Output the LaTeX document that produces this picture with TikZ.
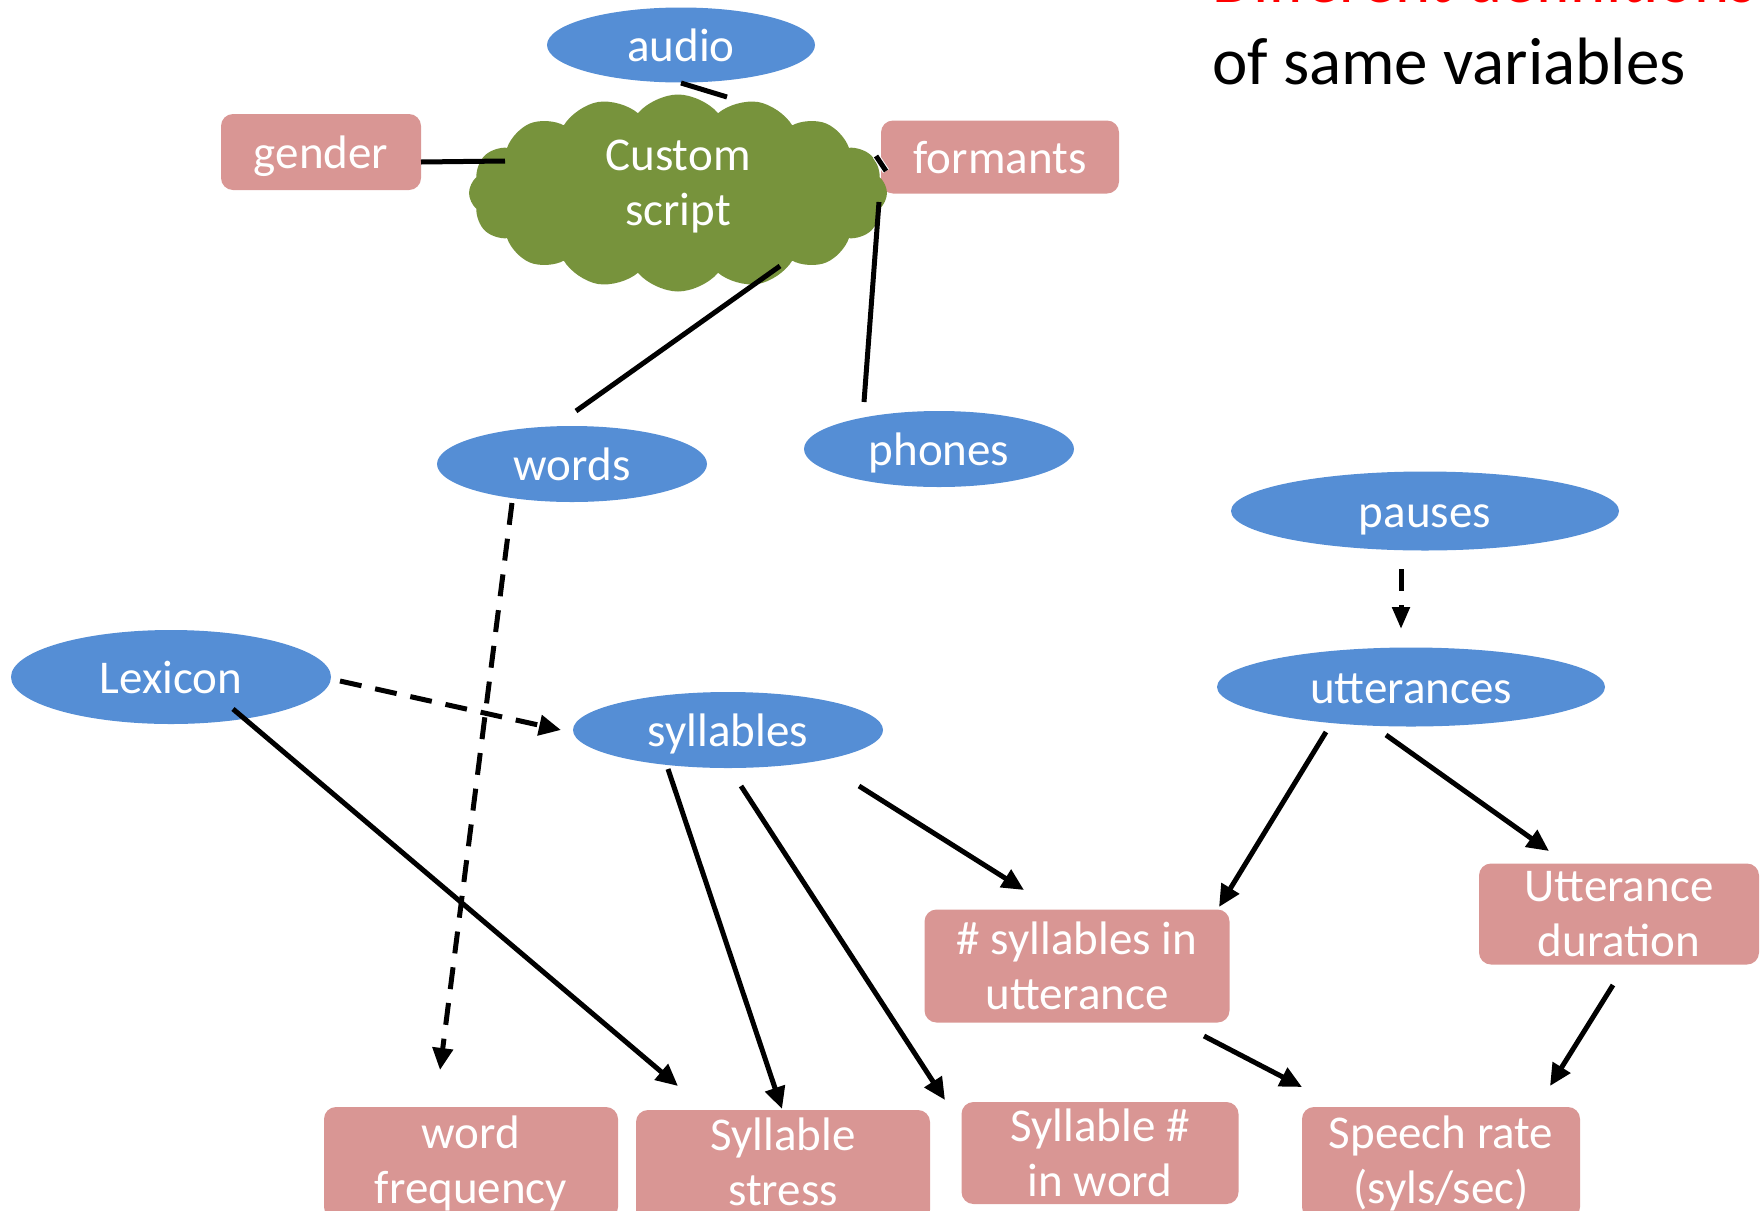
\documentclass[tikz,border=0pt]{standalone}
\usepackage{fontspec}
\setmainfont{Carlito}
\usetikzlibrary{shapes.geometric,shapes.symbols,arrows.meta,calc}
\definecolor{ovalblue}{HTML}{558ED5}
\definecolor{boxpink}{HTML}{D99694}
\definecolor{cloudgreen}{HTML}{77933C}
\begin{document}
\begin{tikzpicture}[x=1pt,y=-1pt,
  every node/.style={font=\fontsize{47}{55}\selectfont, text=white, inner sep=0pt},
  oneline/.style={text height=33pt, text depth=0pt},
  oval/.style={ellipse, fill=ovalblue, oneline},
  box/.style={rectangle, rounded corners=12pt, fill=boxpink, align=center},
  link/.style={line width=5pt, black},
  arr/.style={link, -{Triangle[length=22pt,width=20pt]}},
  dashline/.style={dash pattern=on 22pt off 14pt},
  heading/.style={anchor=base west, font=\fontsize{67}{76}\selectfont}]
\clip (0,0) rectangle (1760,1210);
\useasboundingbox (0,0) rectangle (1760,1210);

% heading
\node[heading, text=red] (head1) at (1212,2) {Different definitions};
\node[heading, text=black] (head2) at (1212,84) {of same variables};

% sources
\node[oval, minimum width=268pt, minimum height=75pt] (audio) at (681,45) {audio};
\node[box, oneline, minimum width=200pt, minimum height=76pt] (gender) at (321,152) {gender};
\node[box, oneline, minimum width=238pt, minimum height=73pt] (formants) at (1000,157) {formants};
\node[cloud, cloud puffs=16, cloud puff arc=100, aspect=2.1, fill=cloudgreen,
      minimum width=418pt, minimum height=197pt, align=center, text depth=21pt]
      (script) at (678,193) {Custom\\script};

% annotations
\node[oval, minimum width=270pt, minimum height=76pt] (words) at (572,464) {words};
\node[oval, minimum width=270pt, minimum height=76pt] (phones) at (939,449) {phones};
\node[oval, minimum width=388pt, minimum height=79pt] (pauses) at (1425,511) {pauses};
\node[oval, minimum width=388pt, minimum height=79pt] (utter) at (1411,687) {utterances};
\node[oval, minimum width=320pt, minimum height=94pt] (lexicon) at (171,677) {Lexicon};
\node[oval, minimum width=310pt, minimum height=76pt] (syll) at (728,730) {syllables};

% derived variables
\node[box, minimum width=305pt, minimum height=113pt] (nsyl) at (1077,966) {\# syllables in\\utterance};
\node[box, minimum width=280pt, minimum height=101pt] (uttdur) at (1619,914) {Utterance\\duration};
\node[box, minimum width=294pt, minimum height=112pt] (wfreq) at (471,1163) {word\\frequency};
\node[box, minimum width=294pt, minimum height=112pt, text depth=9pt] (stress) at (783,1166) {Syllable\\stress};
\node[box, minimum width=277pt, minimum height=102pt] (sylnum) at (1100,1153) {Syllable \#\\in word};
\node[box, minimum width=278pt, minimum height=112pt] (rate) at (1441,1163) {Speech rate\\(syls/sec)};

% links into the script
\draw[link] ($(audio)+(0,38)$) -- ($(script)+(49,-96)$);
\draw[link] ($(gender)+(100,10)$) -- ($(script)+(-173,-32)$);
\draw[link] ($(words)+(4,-53)$) -- ($(script)+(102,73)$);
\draw[link] ($(phones)+(-75,-47)$) -- ($(script)+(201,9)$);
\draw[link, preaction={draw=white, line width=7pt}] ($(script)+(198,-37)$) -- ($(formants)+(-114,14)$);

% dashed derivations
\draw[arr, dashline] ($(words)+(-60,39)$) -- ($(wfreq)+(-31,-93)$);
\draw[arr, dashline] ($(lexicon)+(169,4)$) -- ($(syll)+(-167,0)$);
\draw[arr, dashline, -{Triangle[length=22pt,width=17pt]}] ($(pauses)+(-24,58)$) -- ($(utter)+(-10,-58)$);

% solid derivations
\draw[arr] ($(lexicon)+(62,32)$) -- ($(stress)+(-105,-80)$);
\draw[arr] ($(syll)+(-60,39)$) -- ($(stress)+(-1,-57)$);
\draw[arr] ($(syll)+(13,56)$) -- ($(sylnum)+(-155,-53)$);
\draw[arr] ($(syll)+(131,56)$) -- ($(nsyl)+(-53,-76)$);
\draw[arr] ($(utter)+(-85,45)$) -- ($(nsyl)+(142,-59)$);
\draw[arr] ($(utter)+(-25,48)$) -- ($(uttdur)+(-70,-63)$);
\draw[arr] ($(nsyl)+(127,70)$) -- ($(rate)+(-139,-76)$);
\draw[arr] ($(uttdur)+(-6,71)$) -- ($(rate)+(109,-77)$);
\end{tikzpicture}
\end{document}
